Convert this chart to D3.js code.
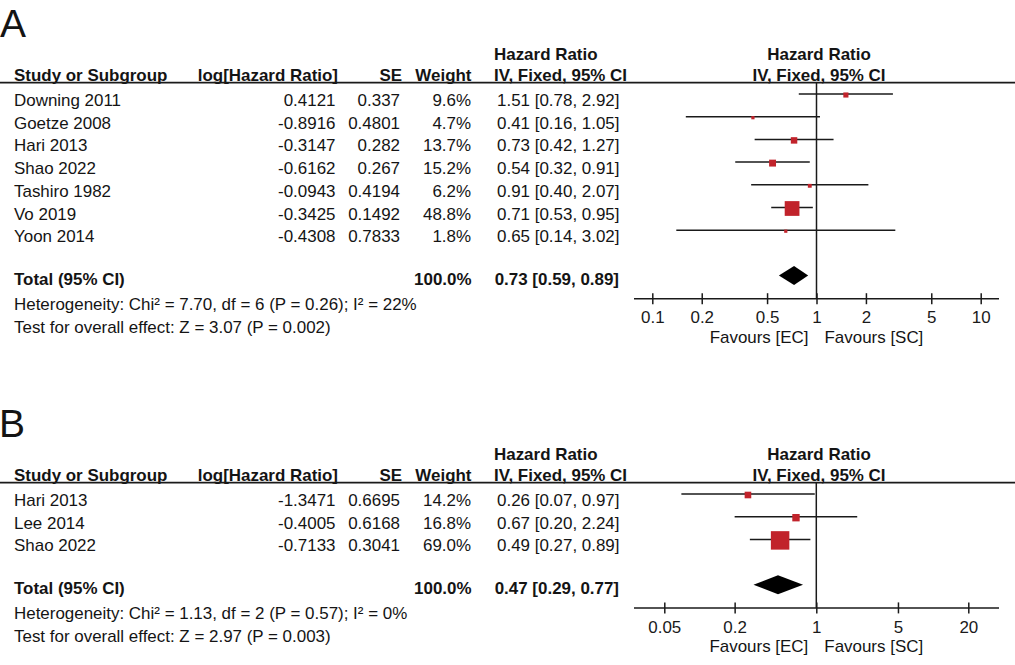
<!DOCTYPE html>
<html>
<head>
<meta charset="utf-8">
<script src="https://cdn.jsdelivr.net/npm/d3@7"></script>
<style>
  body { margin: 0; background: #fff; }
  svg text { font-family: "Liberation Sans", Arial, sans-serif; fill: #141414; }
</style>
</head>
<body>
<svg id="chart"></svg>
<script>
// panel A data
var studiesA = ["Downing 2011", "Goetze 2008", "Hari 2013", "Shao 2022", "Tashiro 1982", "Vo 2019", "Yoon 2014"];
var logHRA = [0.4121, -0.8916, -0.3147, -0.6162, -0.0943, -0.3425, -0.4308];
var seA = ["0.337", "0.4801", "0.282", "0.267", "0.4194", "0.1492", "0.7833"];
var weightA = [9.6, 4.7, 13.7, 15.2, 6.2, 48.8, 1.8];
var hrA = [1.51, 0.41, 0.73, 0.54, 0.91, 0.71, 0.65];
var ciLowA = [0.78, 0.16, 0.42, 0.32, 0.40, 0.53, 0.14];
var ciHighA = [2.92, 1.05, 1.27, 0.91, 2.07, 0.95, 3.02];
var totalA = [0.73, 0.59, 0.89];
var hetA = "Heterogeneity: Chi² = 7.70, df = 6 (P = 0.26); I² = 22%";
var testA = "Test for overall effect: Z = 3.07 (P = 0.002)";
var ticksA = [0.1, 0.2, 0.5, 1, 2, 5, 10];

// panel B data
var studiesB = ["Hari 2013", "Lee 2014", "Shao 2022"];
var logHRB = [-1.3471, -0.4005, -0.7133];
var seB = ["0.6695", "0.6168", "0.3041"];
var weightB = [14.2, 16.8, 69.0];
var hrB = [0.26, 0.67, 0.49];
var ciLowB = [0.07, 0.20, 0.27];
var ciHighB = [0.97, 2.24, 0.89];
var totalB = [0.47, 0.29, 0.77];
var hetB = "Heterogeneity: Chi² = 1.13, df = 2 (P = 0.57); I² = 0%";
var testB = "Test for overall effect: Z = 2.97 (P = 0.003)";
var ticksB = [0.05, 0.2, 1, 5, 20];

var W = 1015, H = 665;
var svg = d3.select("#chart").attr("width", W).attr("height", H);

var fs = 16.95;
var red = "#c1232b";
var ink = "#1a1a1a";
var sizeScale = d3.scalePow().exponent(0.65).domain([0, 100]).range([0, 23.5]);

function panel(cfg) {
    var g = svg.append("g").attr("transform", `translate(0, ${cfg.oy})`);
    var x = d3.scaleLog().domain(cfg.tickExtent).range(cfg.tickRange);
    var x1 = x(1);

    // panel letter
    g.append("text").attr("x", cfg.letterX).attr("y", 36.7)
        .style("font-size", "39px").text(cfg.letter);

    // headers
    var hdr = g.append("g").style("font-weight", "bold").style("font-size", fs + "px");
    hdr.append("text").attr("x", 494).attr("y", 60).text("Hazard Ratio");
    hdr.append("text").attr("x", 819).attr("y", 60).attr("text-anchor", "middle").text("Hazard Ratio");
    hdr.append("text").attr("x", 14).attr("y", 80.5).text("Study or Subgroup");
    hdr.append("text").attr("x", 338).attr("y", 80.5).attr("text-anchor", "end").text("log[Hazard Ratio]");
    hdr.append("text").attr("x", 402).attr("y", 80.5).attr("text-anchor", "end").text("SE");
    hdr.append("text").attr("x", 471.5).attr("y", 80.5).attr("text-anchor", "end").text("Weight");
    hdr.append("text").attr("x", 494).attr("y", 80.5).text("IV, Fixed, 95% CI");
    hdr.append("text").attr("x", 819).attr("y", 80.5).attr("text-anchor", "middle").text("IV, Fixed, 95% CI");

    g.append("line").attr("x1", 0).attr("x2", W).attr("y1", 82.7).attr("y2", 82.7)
        .attr("stroke", ink).attr("stroke-width", 1.8);

    var rowY = function(i) { return 94 + 22.7 * i; };
    var n = cfg.studies.length;
    var totalY = rowY(n - 1) + 45.3;
    var axisY = totalY + 23.2;

    // study rows
    var rows = g.selectAll("g.row").data(cfg.studies.map(function(s, i) {
        return { name: s, lhr: cfg.logHR[i], se: cfg.se[i], w: cfg.weight[i],
                 hr: cfg.hr[i], lo: cfg.lo[i], hi: cfg.hi[i], y: rowY(i) };
    })).enter().append("g").attr("class", "row").style("font-size", fs + "px");

    rows.append("text").attr("x", 14).attr("y", d => d.y + 12).text(d => d.name);
    rows.append("text").attr("x", 335.5).attr("y", d => d.y + 12).attr("text-anchor", "end")
        .text(d => d.lhr.toFixed(4));
    rows.append("text").attr("x", 400).attr("y", d => d.y + 12).attr("text-anchor", "end").text(d => d.se);
    rows.append("text").attr("x", 471).attr("y", d => d.y + 12).attr("text-anchor", "end")
        .text(d => d.w.toFixed(1) + "%");
    rows.append("text").attr("x", 619.5).attr("y", d => d.y + 12).attr("text-anchor", "end")
        .text(d => `${d.hr.toFixed(2)} [${d.lo.toFixed(2)}, ${d.hi.toFixed(2)}]`);

    rows.append("line")
        .attr("x1", d => x(d.lo)).attr("x2", d => x(d.hi))
        .attr("y1", d => d.y).attr("y2", d => d.y)
        .attr("stroke", ink).attr("stroke-width", 1.5);
    rows.append("rect")
        .attr("x", d => x(Math.exp(d.lhr)) - Math.max(3.2, sizeScale(d.w)) / 2)
        .attr("y", d => d.y + 1 - Math.max(3.2, sizeScale(d.w)) / 2)
        .attr("width", d => Math.max(3.2, sizeScale(d.w)))
        .attr("height", d => Math.max(3.2, sizeScale(d.w)))
        .attr("fill", red);

    // total row
    var tot = g.append("g").style("font-weight", "bold").style("font-size", fs + "px");
    tot.append("text").attr("x", 14).attr("y", totalY + 9.7).text("Total (95% CI)");
    tot.append("text").attr("x", 471.5).attr("y", totalY + 9.7).attr("text-anchor", "end").text("100.0%");
    tot.append("text").attr("x", 619).attr("y", totalY + 9.7).attr("text-anchor", "end")
        .text(`${cfg.total[0].toFixed(2)} [${cfg.total[1].toFixed(2)}, ${cfg.total[2].toFixed(2)}]`);

    g.append("path")
        .attr("d", `M${x(cfg.total[1])},${totalY} L${x(cfg.total[0])},${totalY - 9.5} L${x(cfg.total[2])},${totalY} L${x(cfg.total[0])},${totalY + 9.5} Z`)
        .attr("fill", "#000");

    // line of no effect
    g.append("line").attr("x1", x1).attr("x2", x1).attr("y1", 82.7).attr("y2", axisY)
        .attr("stroke", ink).attr("stroke-width", 1.5);

    // axis
    var axis = g.append("g").attr("transform", `translate(0, ${axisY})`)
        .call(d3.axisBottom(x).tickValues(cfg.ticks).tickFormat(d => String(d))
            .tickSizeOuter(0).tickSizeInner(5.5).tickPadding(13));
    axis.select(".domain").remove();
    axis.selectAll(".tick line").attr("y1", -5.5).attr("y2", 5.5)
        .attr("stroke", ink).attr("stroke-width", 1.5);
    axis.selectAll(".tick text").style("font-size", fs + "px")
        .attr("y", 24.8).attr("dy", null).style("fill", ink);
    axis.attr("font-family", null).attr("font-size", null);
    axis.append("line").attr("x1", 634).attr("x2", 999).attr("y1", 0).attr("y2", 0)
        .attr("stroke", ink).attr("stroke-width", 1.5);

    var fav = g.append("g").style("font-size", fs + "px");
    fav.append("text").attr("x", x1 - 8).attr("y", axisY + 44.5).attr("text-anchor", "end").text("Favours [EC]");
    fav.append("text").attr("x", x1 + 8).attr("y", axisY + 44.5).text("Favours [SC]");

    // footnotes
    var foot = g.append("g").style("font-size", fs + "px");
    foot.append("text").attr("x", 14).attr("y", axisY + 11.5).text(cfg.het);
    foot.append("text").attr("x", 14).attr("y", axisY + 34).text(cfg.test);
}

panel({ oy: 0, letter: "A", letterX: 0, studies: studiesA, logHR: logHRA, se: seA, weight: weightA,
        hr: hrA, lo: ciLowA, hi: ciHighA, total: totalA, het: hetA, test: testA,
        ticks: ticksA, tickExtent: [0.1, 10], tickRange: [652.3, 980.7] });
panel({ oy: 400, letter: "B", letterX: -1, studies: studiesB, logHR: logHRB, se: seB, weight: weightB,
        hr: hrB, lo: ciLowB, hi: ciHighB, total: totalB, het: hetB, test: testB,
        ticks: ticksB, tickExtent: [0.05, 20], tickRange: [664.3, 968.3] });
</script>
</body>
</html>
